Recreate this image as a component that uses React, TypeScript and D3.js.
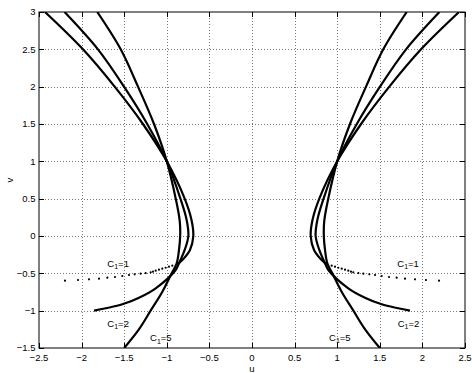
import { useEffect, useRef } from 'react';
import * as d3 from 'd3';

// right-hand branches (u, v); the left-hand ones are the mirror image u -> -u
const curveC1_1: [number, number][] = [
  [2.43, 3], [1.984, 2.5], [1.612, 2], [1.28, 1.5], [1, 1], [0.79, 0.5],
  [0.71, 0.214], [0.689, 0], [0.728, -0.187], [0.8, -0.3], [0.877, -0.379],
];
const curveC1_2: [number, number][] = [
  [2.2, 3], [1.808, 2.5], [1.502, 2], [1.23, 1.5], [1, 1], [0.84, 0.5],
  [0.767, 0.214], [0.747, 0], [0.79, -0.187], [0.857, -0.366], [0.896, -0.455],
  [1.13, -0.7], [1.326, -0.826], [1.522, -0.915], [1.717, -0.968], [1.854, -1.0],
];
const curveC1_5: [number, number][] = [
  [1.816, 3], [1.541, 2.5], [1.338, 2], [1.15, 1.5], [1, 1], [0.895, 0.5],
  [0.848, 0.2], [0.843, 0], [0.857, -0.187], [0.884, -0.366], [0.943, -0.5],
  [1.052, -0.746], [1.19, -1], [1.319, -1.236], [1.5, -1.5],
];
// dotted tail of the C1=1 branch
const tailC1_1: [number, number][] = [
  [0.935, -0.398], [0.974, -0.411], [1.013, -0.425], [1.053, -0.438], [1.092, -0.451],
  [1.13, -0.465], [1.162, -0.478], [1.189, -0.486], [1.248, -0.496], [1.307, -0.505],
  [1.377, -0.513], [1.444, -0.522], [1.522, -0.536], [1.608, -0.549], [1.698, -0.558],
  [1.796, -0.571], [1.913, -0.58], [2.042, -0.589], [2.195, -0.598],
];

const xTicks = [-2.5, -2, -1.5, -1, -0.5, 0, 0.5, 1, 1.5, 2, 2.5];
const yTicks = [-1.5, -1, -0.5, 0, 0.5, 1, 1.5, 2, 2.5, 3];

const labels = [
  { text: '1', u: 1.705, v: -0.41 },
  { text: '2', u: 1.71, v: -1.215 },
  { text: '5', u: 0.904, v: -1.406 },
  { text: '1', u: -1.698, v: -0.41 },
  { text: '2', u: -1.698, v: -1.215 },
  { text: '5', u: -1.197, v: -1.41 },
];

const W = 472;
const H = 373;
const FONT = '"Liberation Sans", Arial, Helvetica, sans-serif';

const fmt = (d: number) => String(d).replace('-', '\u2212');

export default function App() {
  const ref = useRef<SVGSVGElement>(null);

  useEffect(() => {
    document.body.style.margin = '0';
    const svg = d3.select(ref.current);
    svg.selectAll('*').remove();

    const left = 39, right = 465, top = 12, bottom = 348;
    const x = d3.scaleLinear().domain([-2.5, 2.5]).range([left, right]);
    const y = d3.scaleLinear().domain([-1.5, 3]).range([bottom, top]);

    svg.append('rect').attr('width', W).attr('height', H).attr('fill', '#fff');

    svg.append('clipPath').attr('id', 'plot')
      .append('rect').attr('x', left).attr('y', top)
      .attr('width', right - left).attr('height', bottom - top);

    // dotted grid
    const grid = svg.append('g')
      .attr('stroke', '#777').attr('stroke-width', 1).attr('stroke-dasharray', '1,2');
    grid.selectAll('.gx').data(xTicks.slice(1, -1)).enter().append('line')
      .attr('x1', d => Math.round(x(d)) + 0.5).attr('x2', d => Math.round(x(d)) + 0.5)
      .attr('y1', top).attr('y2', bottom);
    grid.selectAll('.gy').data(yTicks.slice(1, -1)).enter().append('line')
      .attr('y1', d => Math.round(y(d)) + 0.5).attr('y2', d => Math.round(y(d)) + 0.5)
      .attr('x1', left).attr('x2', right);

    const plot = svg.append('g').attr('clip-path', 'url(#plot)');
    const line = d3.line<[number, number]>()
      .x(d => x(d[0])).y(d => y(d[1]))
      .curve(d3.curveCatmullRom.alpha(0.5));

    [1, -1].forEach(side => {
      [curveC1_1, curveC1_2, curveC1_5].forEach(c => {
        plot.append('path')
          .datum(c.map(([u, v]) => [side * u, v] as [number, number]))
          .attr('d', line)
          .attr('fill', 'none')
          .attr('stroke', '#000')
          .attr('stroke-width', 2.2);
      });
      plot.selectAll(null)
        .data(tailC1_1)
        .enter()
        .append('circle')
        .attr('cx', d => x(side * d[0]))
        .attr('cy', d => y(d[1]))
        .attr('r', 1.1)
        .attr('fill', '#000');
    });

    // frame and inward ticks on all four sides
    svg.append('rect')
      .attr('x', left).attr('y', top)
      .attr('width', right - left).attr('height', bottom - top)
      .attr('fill', 'none').attr('stroke', '#000').attr('stroke-width', 1);

    const ticks = svg.append('g').attr('stroke', '#000').attr('stroke-width', 1);
    xTicks.forEach(d => {
      const px = Math.round(x(d)) + 0.5;
      ticks.append('line').attr('x1', px).attr('x2', px).attr('y1', bottom).attr('y2', bottom - 5);
      ticks.append('line').attr('x1', px).attr('x2', px).attr('y1', top).attr('y2', top + 5);
    });
    yTicks.forEach(d => {
      const py = Math.round(y(d)) + 0.5;
      ticks.append('line').attr('y1', py).attr('y2', py).attr('x1', left).attr('x2', left + 5);
      ticks.append('line').attr('y1', py).attr('y2', py).attr('x1', right).attr('x2', right - 5);
    });

    const txt = svg.append('g').style('font-family', FONT).style('font-size', '9.5px').attr('fill', '#000');
    txt.selectAll('.xl').data(xTicks).enter().append('text')
      .attr('x', d => x(d)).attr('y', 360.7).attr('text-anchor', 'middle').text(fmt);
    txt.selectAll('.yl').data(yTicks).enter().append('text')
      .attr('x', 35.5).attr('y', d => y(d) + 3.4).attr('text-anchor', 'end').text(fmt);

    txt.append('text').attr('x', x(0)).attr('y', 371.5).attr('text-anchor', 'middle').text('u');
    txt.append('text').attr('transform', `translate(13.3,${(top + bottom) / 2}) rotate(-90)`)
      .attr('text-anchor', 'middle').text('v');

    labels.forEach(l => {
      const t = txt.append('text').attr('x', x(l.u)).attr('y', y(l.v));
      t.append('tspan').text('C');
      t.append('tspan').attr('dy', 2.5).style('font-size', '7px').text('1');
      t.append('tspan').attr('dy', -2.5).text(`=${l.text}`);
    });
  }, []);

  return <svg ref={ref} width={W} height={H} style={{ display: 'block' }} />;
}
